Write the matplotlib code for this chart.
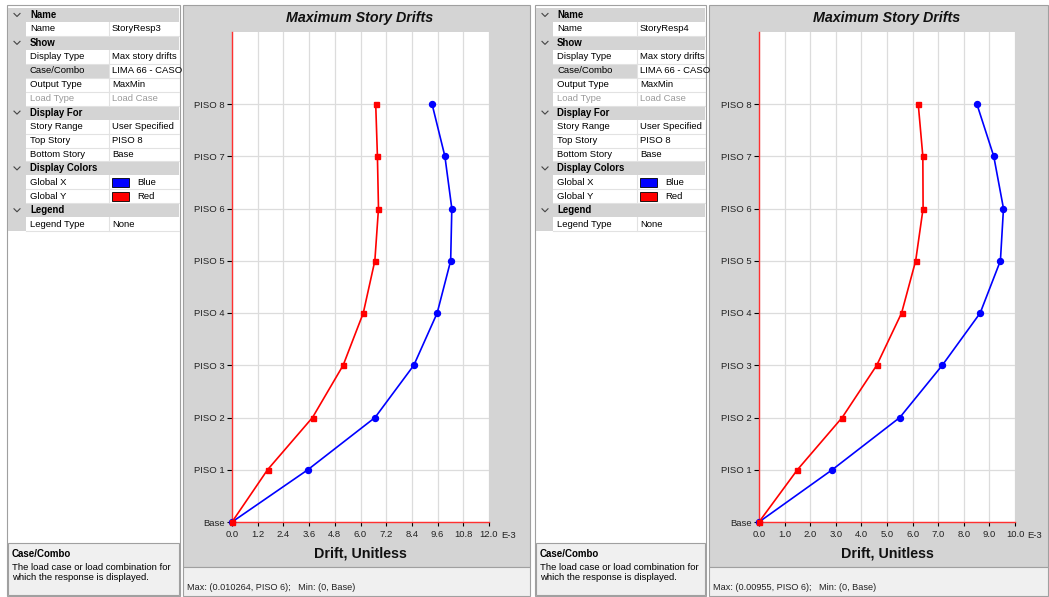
import matplotlib.pyplot as plt
from matplotlib.patches import Rectangle

plt.rcParams['font.family'] = ['Liberation Sans', 'DejaVu Sans']

W, H = 1049, 597

stories = ["Base", "PISO 1", "PISO 2", "PISO 3", "PISO 4",
           "PISO 5", "PISO 6", "PISO 7", "PISO 8"]

# story drifts in E-3 units
resp3_x = [0, 3.54, 6.68, 8.49, 9.58, 10.21, 10.264, 9.94, 9.34]
resp3_y = [0, 1.66, 3.76, 5.19, 6.13, 6.67, 6.84, 6.79, 6.71]
resp4_x = [0, 2.86, 5.50, 7.16, 8.64, 9.43, 9.55, 9.17, 8.51]
resp4_y = [0, 1.50, 3.25, 4.60, 5.57, 6.12, 6.41, 6.40, 6.22]

resp3_ticks = [0.0, 1.2, 2.4, 3.6, 4.8, 6.0, 7.2, 8.4, 9.6, 10.8, 12.0]
resp4_ticks = [0.0, 1.0, 2.0, 3.0, 4.0, 5.0, 6.0, 7.0, 8.0, 9.0, 10.0]

resp3_status = "Max: (0.010264, PISO 6);   Min: (0, Base)"
resp4_status = "Max: (0.00955, PISO 6);   Min: (0, Base)"

# property grid rows: (kind, label, value)
prop_rows = [
    ("h", "Name", None),
    ("p", "Name", "@name"),
    ("h", "Show", None),
    ("p", "Display Type", "Max story drifts"),
    ("s", "Case/Combo", "LIMA 66 - CASO"),
    ("p", "Output Type", "MaxMin"),
    ("d", "Load Type", "Load Case"),
    ("h", "Display For", None),
    ("p", "Story Range", "User Specified"),
    ("p", "Top Story", "PISO 8"),
    ("p", "Bottom Story", "Base"),
    ("h", "Display Colors", None),
    ("c", "Global X", "Blue"),
    ("c", "Global Y", "Red"),
    ("h", "Legend", None),
    ("p", "Legend Type", "None"),
]
swatch = {"Blue": "#0000ff", "Red": "#ff0000"}

GRAY = '#d4d4d4'
EDGE = '#a0a0a0'

fig = plt.figure(figsize=(W / 100, H / 100), dpi=100, facecolor='white')
bg = fig.add_axes([0, 0, 1, 1])
bg.set_xlim(0, W)
bg.set_ylim(H, 0)
bg.axis('off')


def box(x0, y0, x1, y1, fc, ec='none', lw=0.8, z=1):
    r = Rectangle((x0, y0), x1 - x0, y1 - y0, facecolor=fc,
                  edgecolor=ec, lw=lw, zorder=z)
    bg.add_patch(r)
    return r


def prop_panel(x0, xi, xv, x1, name):
    box(x0, 5, x1, 596, 'white', EDGE)
    rh = 13.95
    top = 8
    box(x0 + 1, top, xi, top + rh * len(prop_rows), GRAY, z=1.5)
    clip = box(xv, top, x1 - 1, top + rh * len(prop_rows), 'none', z=0.5)
    for i, (kind, label, value) in enumerate(prop_rows):
        y = top + i * rh
        yc = y + rh / 2
        if kind == "h":
            box(x0 + 1, y, x1 - 1, y + rh, GRAY, z=1.5)
            bg.plot([x0 + 7, x0 + 10, x0 + 13], [yc - 1.5, yc + 1.5, yc - 1.5],
                    color='#444444', lw=0.8, zorder=3)
            bg.text(xi + 4, yc, label, fontsize=6.9, fontweight='bold',
                    va='center', zorder=3)
            continue
        if kind == "s":
            box(xi, y, xv, y + rh, GRAY, z=1.5)
        bg.plot([xi, x1 - 1], [y + rh, y + rh], color='#e2e2e2', lw=0.8, zorder=2)
        bg.plot([xv, xv], [y, y + rh], color='#e2e2e2', lw=0.8, zorder=2)
        col = '#9a9a9a' if kind == "d" else 'black'
        bg.text(xi + 4, yc, label, fontsize=6.8, va='center', color=col, zorder=3)
        val = name if value == "@name" else value
        if kind == "c":
            box(xv + 3, yc - 4.5, xv + 20, yc + 4.5, swatch[val], 'black', lw=0.6, z=3)
            bg.text(xv + 28, yc, val, fontsize=6.8, va='center', zorder=3)
        else:
            t = bg.text(xv + 3, yc, val, fontsize=6.8, va='center', color=col, zorder=3)
            t.set_clip_path(clip)
    # help box
    box(x0 + 1, 543, x1 - 1, 595, '#f0f0f0', EDGE)
    bg.text(x0 + 5, 554, "Case/Combo", fontsize=7, fontweight='bold', va='center', zorder=3)
    bg.text(x0 + 5, 567, "The load case or load combination for", fontsize=6.8,
            va='center', zorder=3)
    bg.text(x0 + 5, 578, "which the response is displayed.", fontsize=6.8,
            va='center', zorder=3)


def chart_panel(x0, x1, cx, status):
    box(x0, 5, x1, 567, GRAY, EDGE)
    box(x0, 567, x1, 596, '#f0f0f0', EDGE)
    bg.text(cx, 18, "Maximum Story Drifts", fontsize=10.3, fontweight='bold',
            fontstyle='italic', ha='center', va='center', color='#111111')
    bg.text(cx, 553, "Drift, Unitless", fontsize=10.3, fontweight='bold',
            ha='center', va='center', color='#111111')
    bg.text(x0 + 4, 588, status, fontsize=6.6, va='center', color='#222222')


def drift_axes(px0, px1, ticks, xs, ys):
    ax = fig.add_axes([px0 / W, (H - 522) / H, (px1 - px0) / W, (522 - 32) / H])
    ax.set_facecolor('white')
    ax.set_xlim(ticks[0], ticks[-1])
    ax.set_ylim(0, 8 * (522 - 32) / (522 - 104))
    ax.set_xticks(ticks)
    ax.set_xticklabels(["%.1f" % t for t in ticks])
    ax.set_yticks(range(len(stories)))
    ax.set_yticklabels(stories)
    ax.tick_params(axis='x', length=3, width=0.8, pad=2.5, labelsize=6.8,
                   labelcolor='#222222')
    ax.tick_params(axis='y', length=3.5, width=0.8, pad=1.5, labelsize=6.8,
                   labelcolor='#222222')
    ax.grid(True, color='#dcdcdc', lw=0.9)
    ax.set_axisbelow(True)
    for s in ['top', 'right']:
        ax.spines[s].set_visible(False)
    for s in ['left', 'bottom']:
        ax.spines[s].set_color('#ff3030')
        ax.spines[s].set_linewidth(1.0)
    ax.plot(xs, range(len(stories)), color='#0000ff', lw=1.2, marker='o',
            ms=4.3, clip_on=False, zorder=3)
    ax.plot(ys, range(len(stories)), color='#ff0000', lw=1.2, marker='s',
            ms=3.6, clip_on=False, zorder=4)
    ax.annotate("E-3", xy=(ticks[-1], 0), xytext=(8.6, -9.6),
                textcoords='offset points', ha='left', va='center',
                fontsize=6.8, color='#222222', annotation_clip=False)
    return ax


prop_panel(7, 26, 109, 180, "StoryResp3")
chart_panel(183, 530, 360, resp3_status)
prop_panel(535, 553, 637, 706, "StoryResp4")
chart_panel(709, 1048, 887, resp4_status)

drift_axes(232, 489, resp3_ticks, resp3_x, resp3_y)
drift_axes(759, 1015, resp4_ticks, resp4_x, resp4_y)

fig.savefig("out.png", dpi=100, facecolor=fig.get_facecolor())
